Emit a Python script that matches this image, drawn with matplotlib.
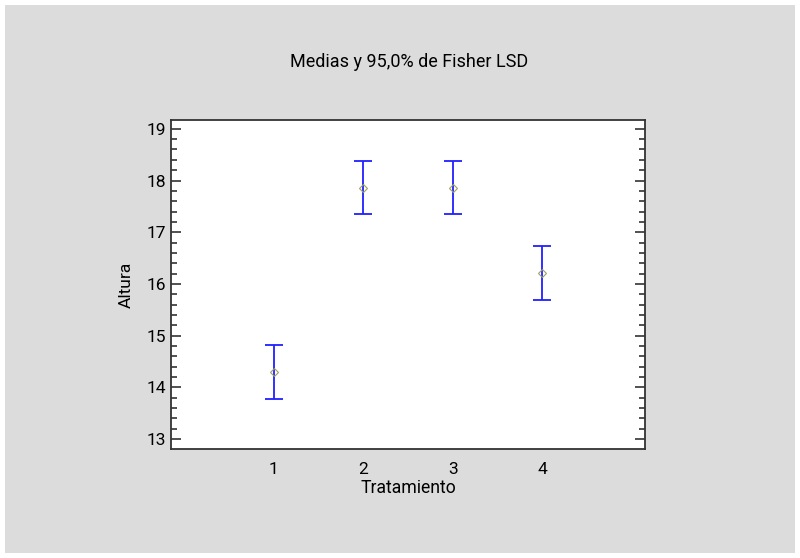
import numpy as np
import matplotlib.pyplot as plt
from matplotlib.patches import Rectangle
from matplotlib.ticker import MultipleLocator

plt.rcParams['font.family'] = ['Roboto', 'DejaVu Sans']

# medias y limites LSD
tratamiento = [1, 2, 3, 4]
medias = [14.30, 17.86, 17.86, 16.21]
inferior = [13.78, 17.35, 17.35, 15.69]
superior = [14.83, 18.38, 18.38, 16.74]

fig = plt.figure(figsize=(8, 5.58), dpi=100)
fig.patch.set_facecolor('white')
fig.patches.append(Rectangle((5/800, 5/558), 790/800, 548/558, transform=fig.transFigure,
                             facecolor='#dcdcdc', edgecolor='none', zorder=-1))

ax = fig.add_axes([171/800, 1-449/558, 474/800, 329/558])
ax.set_facecolor('white')

m = np.array(medias)
err = [m - np.array(inferior), np.array(superior) - m]
ax.errorbar(tratamiento, medias, yerr=err, fmt='none', ecolor='#2020ff', elinewidth=1.3,
            capsize=6.5, capthick=1.3)
ax.plot(tratamiento, medias, 'D', markersize=4, markerfacecolor='none',
        markeredgecolor='#a0a060', markeredgewidth=0.8)

ax.set_xlim(-0.15, 5.15)
ax.set_ylim(12.81, 19.17)
ax.set_xticks(tratamiento)
ax.yaxis.set_major_locator(MultipleLocator(1))
ax.yaxis.set_minor_locator(MultipleLocator(0.2))
ax.tick_params(axis='x', length=0, labelsize=12.5, pad=9)
ax.tick_params(axis='y', which='major', direction='in', length=7, width=1.2,
               left=True, right=True, labelsize=12.5, colors='#333333', labelcolor='black')
ax.tick_params(axis='y', which='minor', direction='in', length=4, width=1.2,
               left=True, right=True, colors='#333333')
for s in ax.spines.values():
    s.set_linewidth(1.3)
    s.set_color('#333333')

ax.set_xlabel('Tratamiento', fontsize=12.7, labelpad=2)
ax.set_ylabel('Altura', fontsize=12.5, labelpad=9)
fig.text(0.511, 1-62/558, 'Medias y 95,0% de Fisher LSD', ha='center', va='center', fontsize=13)

fig.savefig('out.png', dpi=100, facecolor=fig.get_facecolor())
